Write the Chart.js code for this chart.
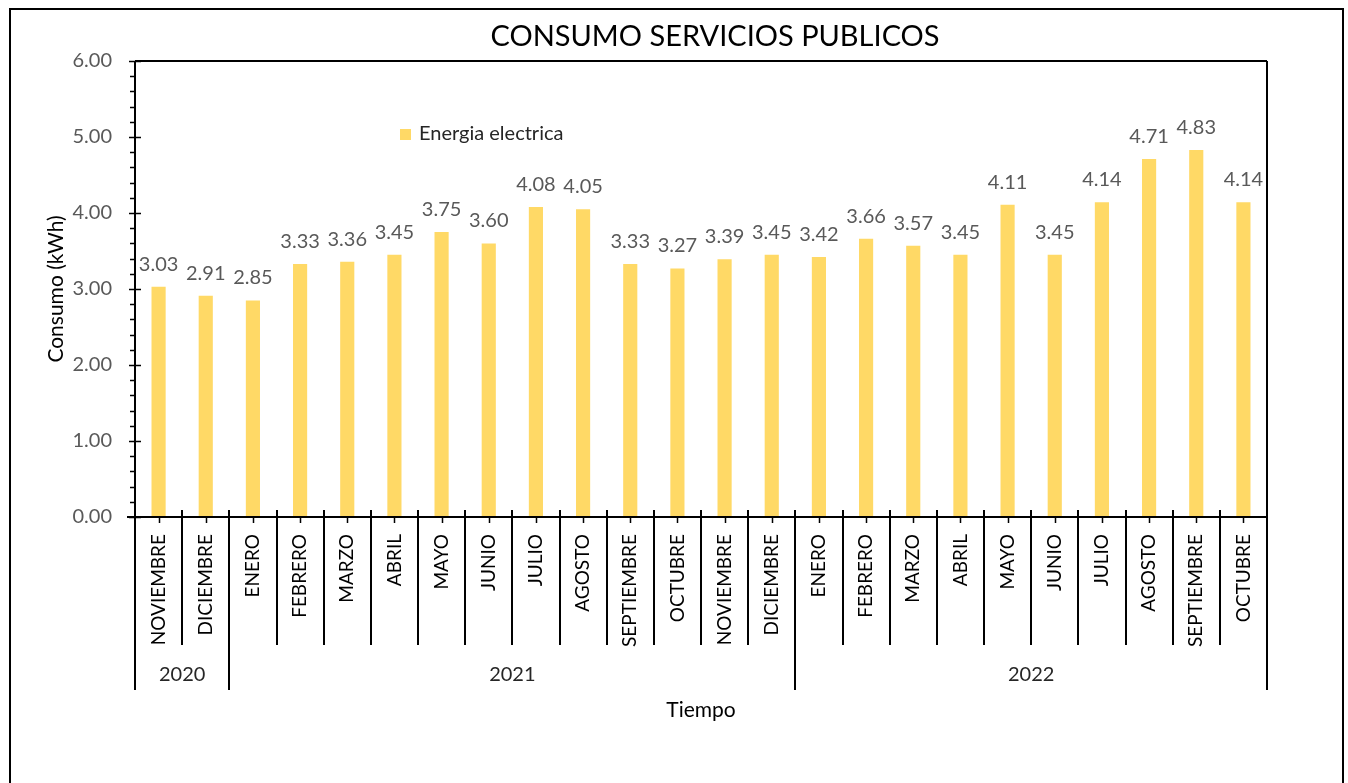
<!DOCTYPE html>
<html>
<head>
<meta charset="utf-8">
<script src="https://cdn.jsdelivr.net/npm/chart.js@4.4.1/dist/chart.umd.min.js"></script>
<style>
  html, body { margin: 0; padding: 0; background: #fff; }
  #wrap { width: 1348px; height: 783px; position: relative; }
</style>
</head>
<body>
<div id="wrap"><canvas id="consumoChart" width="1348" height="783"></canvas></div>
<script>
// Datos
const meses = ['NOVIEMBRE', 'DICIEMBRE', 'ENERO', 'FEBRERO', 'MARZO', 'ABRIL', 'MAYO', 'JUNIO', 'JULIO', 'AGOSTO',
  'SEPTIEMBRE', 'OCTUBRE', 'NOVIEMBRE', 'DICIEMBRE', 'ENERO', 'FEBRERO', 'MARZO', 'ABRIL', 'MAYO', 'JUNIO',
  'JULIO', 'AGOSTO', 'SEPTIEMBRE', 'OCTUBRE'];
const anios = ['2020', '2020', '2021', '2021', '2021', '2021', '2021', '2021', '2021', '2021',
  '2021', '2021', '2021', '2021', '2022', '2022', '2022', '2022', '2022', '2022',
  '2022', '2022', '2022', '2022'];
const energiaElectrica = [3.03, 2.91, 2.85, 3.33, 3.36, 3.45, 3.75, 3.60, 4.08, 4.05,
  3.33, 3.27, 3.39, 3.45, 3.42, 3.66, 3.57, 3.45, 4.11, 3.45,
  4.14, 4.71, 4.83, 4.14];
const yMin = 0, yMax = 6, yStep = 1, yMinorStep = 0.2;

const FONT = 'Lato, "Open Sans", sans-serif';
const AMARILLO = '#FFD966';
const GRIS = '#595959';

// Plugin: marco, ejes, separadores, etiquetas
const decoraciones = {
  id: 'decoraciones',
  afterDraw(chart) {
    const ctx = chart.ctx;
    const { left, right, top, bottom } = chart.chartArea;
    const x = chart.scales.x;
    const y = chart.scales.y;
    ctx.save();

    // marco exterior
    ctx.strokeStyle = '#000';
    ctx.lineWidth = 2;
    ctx.strokeRect(10, 9, 1333, 800);

    // titulo
    ctx.fillStyle = '#000';
    ctx.font = '29px ' + FONT;
    ctx.textAlign = 'center';
    ctx.textBaseline = 'middle';
    ctx.fillText('CONSUMO SERVICIOS PUBLICOS', 715, 37);

    // borde del area
    ctx.lineWidth = 2;
    ctx.beginPath();
    ctx.moveTo(left, top); ctx.lineTo(right, top);
    ctx.moveTo(right, top); ctx.lineTo(right, bottom + 173);
    ctx.moveTo(left, top); ctx.lineTo(left, bottom + 173);
    ctx.moveTo(left - 8, bottom); ctx.lineTo(right, bottom);
    ctx.stroke();

    // ticks eje Y
    ctx.lineWidth = 1.5;
    ctx.beginPath();
    for (let v = yMin; v <= yMax + 1e-9; v += yMinorStep) {
      const py = Math.round(y.getPixelForValue(v)) + 0.5;
      const major = Math.abs(v - Math.round(v)) < 1e-6;
      if (major) { ctx.moveTo(left - 6, py); ctx.lineTo(left + 6, py); }
      else { ctx.moveTo(left - 5, py); ctx.lineTo(left, py); }
    }
    ctx.stroke();

    // separadores de categorias y marcas centrales
    const n = meses.length;
    const paso = (right - left) / n;
    ctx.lineWidth = 2;
    ctx.beginPath();
    for (let i = 1; i < n; i++) {
      const px = Math.round(left + paso * i);
      const cambio = anios[i] !== anios[i - 1];
      ctx.moveTo(px, bottom - 7);
      ctx.lineTo(px, cambio ? bottom + 173 : bottom + 128);
    }
    ctx.stroke();
    ctx.lineWidth = 1.5;
    ctx.beginPath();
    for (let i = 0; i < n; i++) {
      const px = Math.round(x.getPixelForValue(i)) + 0.5;
      ctx.moveTo(px, bottom); ctx.lineTo(px, bottom + 6);
    }
    ctx.stroke();

    // etiquetas de anio
    ctx.fillStyle = '#262626';
    ctx.font = '20px ' + FONT;
    let ini = 0;
    for (let i = 1; i <= n; i++) {
      if (i === n || anios[i] !== anios[ini]) {
        const cx = (left + paso * ini + left + paso * i) / 2;
        ctx.fillText(anios[ini], cx, bottom + 158);
        ini = i;
      }
    }

    // titulos de ejes
    ctx.fillStyle = '#000';
    ctx.font = '21px ' + FONT;
    ctx.fillText('Tiempo', 701, 710);
    ctx.save();
    ctx.translate(56, (top + bottom) / 2);
    ctx.rotate(-Math.PI / 2);
    ctx.fillText('Consumo (kWh)', 0, 0);
    ctx.restore();

    // leyenda
    ctx.fillStyle = AMARILLO;
    ctx.fillRect(400, 129, 11, 11);
    ctx.fillStyle = '#262626';
    ctx.font = '20px ' + FONT;
    ctx.textAlign = 'left';
    ctx.fillText('Energia electrica', 419, 134);

    // etiquetas de datos
    ctx.fillStyle = GRIS;
    ctx.textAlign = 'center';
    ctx.textBaseline = 'alphabetic';
    const meta = chart.getDatasetMeta(0);
    meta.data.forEach((bar, i) => {
      ctx.fillText(energiaElectrica[i].toFixed(2), bar.x, bar.y - 16);
    });

    ctx.restore();
  }
};

const ctx = document.getElementById('consumoChart').getContext('2d');
const chart = new Chart(ctx, {
  type: 'bar',
  data: {
    labels: meses,
    datasets: [{
      label: 'Energia electrica',
      data: energiaElectrica,
      backgroundColor: AMARILLO,
      borderWidth: 0,
      barPercentage: 0.3,
      categoryPercentage: 1
    }]
  },
  options: {
    responsive: false,
    animation: false,
    layout: { padding: { left: 0, top: 61, right: 81, bottom: 0 } },
    plugins: {
      legend: { display: false },
      tooltip: { enabled: false },
      title: { display: false }
    },
    scales: {
      x: {
        grid: { display: false },
        border: { display: false },
        ticks: {
          color: '#000',
          font: { family: FONT, size: 19 },
          minRotation: 90,
          maxRotation: 90,
          autoSkip: false,
          padding: 9
        },
        afterFit(scale) { scale.height = 266; }
      },
      y: {
        min: yMin,
        max: yMax,
        grid: { display: false },
        border: { display: false },
        ticks: {
          stepSize: yStep,
          color: GRIS,
          font: { family: FONT, size: 20 },
          padding: 15,
          callback: (v) => Number(v).toFixed(2)
        },
        afterFit(scale) { scale.width = 135; }
      }
    }
  },
  plugins: [decoraciones]
});
</script>
</body>
</html>
